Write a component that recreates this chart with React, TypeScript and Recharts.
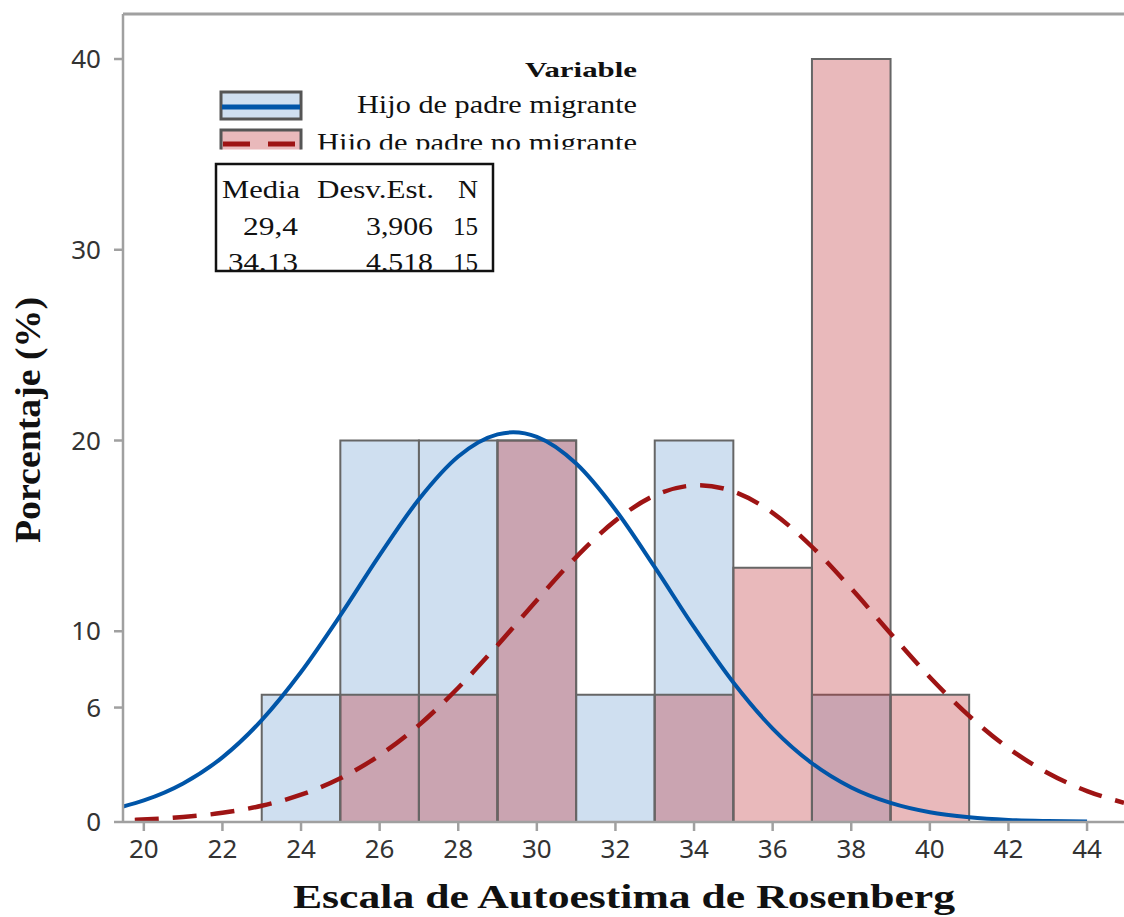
import React from 'react';
import { ComposedChart, Line, XAxis, YAxis, ReferenceArea, ReferenceLine } from 'recharts';

// histogram bins (width 2), percentages per group
const binStarts = [23, 25, 27, 29, 31, 33, 35, 37, 39];
const migrantePct = [6.67, 20, 20, 20, 6.67, 20, 0, 6.67, 0];
const noMigrantePct = [0, 6.67, 6.67, 20, 0, 6.67, 13.33, 40, 6.67];

// fitted curves
const migranteX = [19.47, 20, 21, 22, 23, 24, 25, 26, 27, 28, 29, 29.4, 30, 31, 32, 33, 34, 35, 36, 37, 38, 39, 40, 41, 42, 43, 44];
const migranteY = [0.81, 1.13, 2.02, 3.39, 5.34, 7.86, 10.83, 13.99, 16.92, 19.16, 20.32, 20.43, 20.19, 18.79, 16.37, 13.36, 10.21, 7.31, 4.9, 3.08, 1.81, 1.0, 0.51, 0.25, 0.11, 0.05, 0.02];
const noMigranteX = [19.77, 21, 22, 23, 24, 25, 26, 27, 28, 29, 30, 31, 32, 33, 34, 34.13, 35, 36, 37, 38, 39, 40, 41, 42, 43, 44, 44.94];
const noMigranteY = [0.11, 0.26, 0.48, 0.85, 1.43, 2.29, 3.5, 5.08, 7.04, 9.27, 11.63, 13.89, 15.8, 17.12, 17.65, 17.66, 17.33, 16.21, 14.43, 12.24, 9.88, 7.59, 5.56, 3.87, 2.57, 1.62, 1.01];

const xDomain = [19.47, 44.94];
const yDomain = [0, 42.36];
const xTicks = [20, 22, 24, 26, 28, 30, 32, 34, 36, 38, 40, 42, 44];
const yTicks = [0, 6, 10, 20, 30, 40];

const statsHeader = ['Media', 'Desv.Est.', 'N'];
const statsRows = [
  ['29,4', '3,906', '15'],
  ['34,13', '4,518', '15'],
];

const migranteData = migranteX.map((x, i) => ({ x, y: migranteY[i] }));
const noMigranteData = noMigranteX.map((x, i) => ({ x, y: noMigranteY[i] }));

const BLUE_FILL = '#cfdff0';
const BLUE_LINE = '#0055a8';
const RED_LINE = '#9e1414';
const BAR_STROKE = '#666666';
const AXIS_GRAY = '#a0a0a0';
const serif = '"Liberation Serif", "Times New Roman", serif';
const tickStyle = { fontSize: 26, fill: '#333', fontFamily: '"Noto Sans", sans-serif' };

// [left, right] of each table column in the figure
const colBox = [[0, 298], [366, 433], [453, 478]];
const rowWidths = [[55, 67, 25], [70, 67, 25]];

function Overlay() {
  return (
    <svg
      width={1124}
      height={917}
      style={{ position: 'absolute', left: 0, top: 0, pointerEvents: 'none' }}
    >
      <defs>
        <clipPath id="legendClip">
          <rect x={200} y={40} width={460} height={109.5} />
        </clipPath>
        <clipPath id="tableClip">
          <rect x={216} y={164} width={277} height={106} />
        </clipPath>
      </defs>

      {/* legend */}
      <g clipPath="url(#legendClip)" fontFamily={serif} fill="#111">
        <text x={525} y={77} fontSize={21} fontWeight="bold" textLength={112} lengthAdjust="spacingAndGlyphs">
          Variable
        </text>
        <rect x={221} y={92} width={80} height={27} fill={BLUE_FILL} stroke="#555" strokeWidth={3} />
        <line x1={222} x2={300} y1={107} y2={107} stroke={BLUE_LINE} strokeWidth={5} />
        <text x={357} y={113} fontSize={26} textLength={280} lengthAdjust="spacingAndGlyphs">
          Hijo de padre migrante
        </text>
        <rect x={221} y={130} width={80} height={27} fill="#e9b9bb" stroke="#555" strokeWidth={3} />
        <line x1={223} x2={298} y1={144} y2={144} stroke={RED_LINE} strokeWidth={5} strokeDasharray="27 18" />
        <text x={317} y={151} fontSize={26} textLength={320} lengthAdjust="spacingAndGlyphs">
          Hijo de padre no migrante
        </text>
      </g>

      {/* stats table */}
      <rect x={216} y={164} width={277} height={107} fill="none" stroke="#111" strokeWidth={2.5} />
      <g clipPath="url(#tableClip)" fontFamily={serif} fontSize={25} fill="#111">
        <text x={222} y={198} textLength={78} lengthAdjust="spacingAndGlyphs">{statsHeader[0]}</text>
        <text x={317} y={198} textLength={117} lengthAdjust="spacingAndGlyphs">{statsHeader[1]}</text>
        <text x={458} y={198} textLength={20} lengthAdjust="spacingAndGlyphs">{statsHeader[2]}</text>
        {statsRows.map((row, i) => (
          <g key={i}>
            {row.map((cell, j) => (
              <text
                key={j}
                x={colBox[j][1] - rowWidths[i][j]}
                y={235 + i * 36}
                textLength={rowWidths[i][j]}
                lengthAdjust="spacingAndGlyphs"
              >
                {cell}
              </text>
            ))}
          </g>
        ))}
      </g>

      {/* axis titles */}
      <text
        transform="translate(40, 420) rotate(-90)"
        textAnchor="middle"
        fontFamily={serif}
        fontSize={36}
        fontWeight="bold"
        fill="#111"
        textLength={246}
        lengthAdjust="spacingAndGlyphs"
      >
        Porcentaje (%)
      </text>
      <text
        x={293}
        y={908}
        fontFamily={serif}
        fontSize={34}
        fontWeight="bold"
        fill="#111"
        textLength={662}
        lengthAdjust="spacingAndGlyphs"
      >
        Escala de Autoestima de Rosenberg
      </text>
    </svg>
  );
}

export default function App() {
  return (
    <div style={{ position: 'absolute', left: 0, top: 0, width: 1124, height: 917, background: '#fff' }}>
      <ComposedChart width={1124} height={917} margin={{ top: 14, right: 0, left: 0, bottom: 0 }}>
        <XAxis
          dataKey="x"
          type="number"
          domain={xDomain}
          allowDataOverflow
          ticks={xTicks}
          height={95}
          tickSize={9}
          tickMargin={9}
          tick={tickStyle}
          tickLine={{ stroke: AXIS_GRAY, strokeWidth: 2.5 }}
          axisLine={{ stroke: AXIS_GRAY, strokeWidth: 2.5 }}
        />
        <YAxis
          type="number"
          domain={yDomain}
          allowDataOverflow
          ticks={yTicks}
          width={123}
          tickSize={9}
          tickMargin={13}
          tick={tickStyle}
          tickLine={{ stroke: AXIS_GRAY, strokeWidth: 2.5 }}
          axisLine={{ stroke: AXIS_GRAY, strokeWidth: 2.5 }}
        />

        {/* top frame */}
        <ReferenceLine y={yDomain[1]} stroke={AXIS_GRAY} strokeWidth={3} />

        {binStarts.map((x0, i) =>
          migrantePct[i] > 0 ? (
            <ReferenceArea
              key={'m' + i}
              x1={x0}
              x2={x0 + 2}
              y1={0}
              y2={migrantePct[i]}
              fill={BLUE_FILL}
              fillOpacity={1}
              stroke={BAR_STROKE}
              strokeWidth={2}
            />
          ) : null
        )}
        {binStarts.map((x0, i) =>
          noMigrantePct[i] > 0 ? (
            <ReferenceArea
              key={'n' + i}
              x1={x0}
              x2={x0 + 2}
              y1={0}
              y2={noMigrantePct[i]}
              fill="#c0373d"
              fillOpacity={0.35}
              stroke={BAR_STROKE}
              strokeWidth={2}
            />
          ) : null
        )}

        <Line
          data={migranteData}
          dataKey="y"
          type="monotone"
          stroke={BLUE_LINE}
          strokeWidth={4}
          dot={false}
          activeDot={false}
          isAnimationActive={false}
        />
        <Line
          data={noMigranteData}
          dataKey="y"
          type="monotone"
          stroke={RED_LINE}
          strokeWidth={4.5}
          strokeDasharray="24 14"
          dot={false}
          activeDot={false}
          isAnimationActive={false}
        />
      </ComposedChart>
      <Overlay />
    </div>
  );
}
